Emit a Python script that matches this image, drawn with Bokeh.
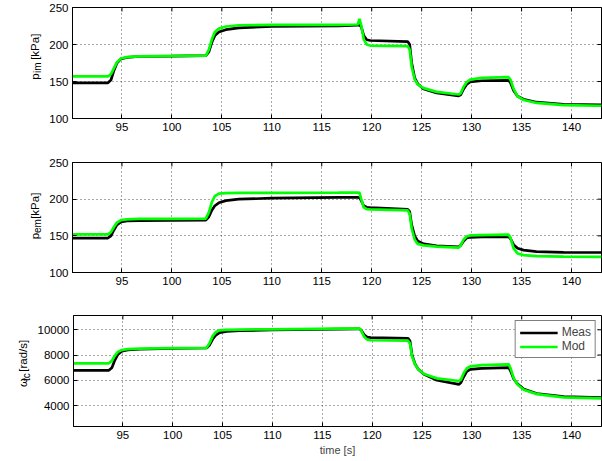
import numpy as np
from bokeh.plotting import figure
from bokeh.layouts import column, row
from bokeh.models import Range1d, FixedTicker, Label, Legend, LegendItem
from bokeh.embed import file_html
from bokeh.resources import INLINE

# ---------------- data ----------------
t = [90.0, 93.6, 93.9, 94.2, 94.5, 94.9, 95.5, 96.7, 100.0, 103.4, 103.7, 104.0,
     104.3, 104.7, 105.4, 106.7, 110.0, 116.7, 118.6, 118.78, 118.95, 119.2, 119.5,
     119.85, 123.6, 123.8, 124.0, 124.3, 124.6, 125.2, 126.5, 128.7, 128.9, 129.2,
     129.5, 129.85, 131.0, 133.7, 133.9, 134.2, 134.6, 135.2, 136.5, 139.2, 143.0]

pim_meas = [148.2, 148.2, 152, 165, 175, 180.6, 182.5, 183.8, 184.3, 185, 190, 203,
            212, 217, 220, 222.5, 224.3, 225.3, 226, 226.2, 224, 212, 206.5,
            205.4, 204, 200, 175, 155, 147, 140, 134.5, 130.5, 132, 140,
            146, 149.5, 151, 151.5, 148, 138, 130, 126, 122, 119, 118.5]
pim_mod = [156.8, 156.8, 160, 168, 176, 181, 183, 184, 184.5, 185, 193, 207,
           217, 221.5, 224.3, 226, 226.6, 226.6, 227, 234.5, 226, 207, 200,
           198.6, 197.7, 193, 170, 153, 146, 141, 136, 132.4, 134, 143,
           149, 152.5, 155, 155.8, 152, 140, 130, 125, 121, 118, 117.2]

pem_meas = [147, 147, 150, 158, 165, 169, 170.3, 170.8, 171.2, 171.5, 176, 185,
            191, 195, 198, 200, 201.3, 202.5, 202.5, 202, 198, 191, 189,
            188.5, 186.2, 183, 165, 150, 143, 139, 136.4, 135, 137, 143,
            147, 148, 148.5, 149, 146, 138, 133, 130.5, 128.5, 127.5, 127.3]
pem_mod = [152, 152, 155, 162, 168, 171.5, 172.5, 173, 173.2, 173.4, 182, 196,
           204, 207.5, 208.3, 208.5, 208.5, 208.8, 209, 208.5, 200, 189, 186.5,
           186, 184.8, 180, 160, 145, 139, 137, 135.2, 134, 137, 145,
           149, 150.5, 151, 151.7, 147, 133, 126, 123.7, 122.3, 121.6, 121.4]

wtc_meas = [6790, 6790, 7000, 7600, 8050, 8300, 8400, 8460, 8520, 8557, 8800, 9250,
            9550, 9773, 9880, 9940, 9984, 10060, 10080, 10060, 9900, 9600, 9420,
            9380, 9323, 9100, 8000, 7300, 6900, 6470, 6000, 5680, 5800, 6300,
            6700, 6866, 6950, 7000, 6700, 6100, 5700, 5300, 4950, 4700, 4620]
wtc_mod = [7342, 7342, 7550, 7950, 8250, 8400, 8470, 8500, 8540, 8570, 8950, 9500,
           9800, 9957, 10000, 10020, 10040, 10100, 10100, 10080, 9850, 9450, 9220,
           9170, 9140, 8900, 7900, 7250, 6900, 6500, 6150, 5942, 6050, 6600,
           6950, 7100, 7200, 7263, 6900, 6150, 5650, 5250, 4900, 4650, 4570]

x_ticks = [95, 100, 105, 110, 115, 120, 125, 130, 135, 140]
p_ticks = [100, 150, 200, 250]
w_ticks = [4000, 6000, 8000, 10000]
x_label = "time [s]"
legend_labels = ["Meas", "Mod"]

FONT = "Liberation Sans"
MEAS_COLOR = "black"
MOD_COLOR = "#00ff00"
X0, X1 = 90.05, 143.0
LEFT, FRAME_W, RIGHT = 72, 529, 1


def style_axis(ax, ticks):
    ax.ticker = FixedTicker(ticks=ticks)
    ax.major_tick_in = 4
    ax.major_tick_out = 0
    ax.minor_tick_in = 0
    ax.minor_tick_out = 0
    ax.axis_line_color = "black"
    ax.major_tick_line_color = "black"
    ax.major_label_text_font = FONT
    ax.major_label_text_color = "black"
    ax.major_label_text_font_size = "11.5px"
    ax.major_label_standoff = 4


def make_fig(label_w, top, frame_h, bottom, yr, yticks, ys, xlabel=None):
    left = LEFT - label_w
    p = figure(width=left + FRAME_W + RIGHT, height=top + frame_h + bottom,
               x_range=Range1d(X0, X1), y_range=Range1d(*yr),
               output_backend="svg", toolbar_location=None,
               min_border_left=left, min_border_right=RIGHT,
               min_border_top=top, min_border_bottom=bottom)
    p.background_fill_color = "white"
    p.border_fill_color = "white"
    p.outline_line_color = "black"
    p.outline_line_width = 1
    style_axis(p.xaxis[0], x_ticks)
    style_axis(p.yaxis[0], yticks)
    if xlabel:
        p.xaxis.axis_label = xlabel
        p.xaxis.axis_label_text_font = FONT
        p.xaxis.axis_label_text_font_size = "11px"
        p.xaxis.axis_label_text_font_style = "normal"
        p.xaxis.axis_label_standoff = 2
    for g in (p.xgrid[0], p.ygrid[0]):
        g.grid_line_color = "#555555"
        g.grid_line_dash = "1 3"
        g.grid_line_width = 1
    p.xgrid.ticker = FixedTicker(ticks=x_ticks)
    p.ygrid.ticker = FixedTicker(ticks=yticks)
    # inner ticks on the top and right edges (clipped half-dashes)
    p.scatter(x_ticks, [yr[1]] * len(x_ticks), marker="dash", size=8, angle=np.pi / 2,
              line_color="black", line_width=1)
    p.scatter([X1] * len(yticks), yticks, marker="dash", size=8,
              line_color="black", line_width=1)
    r1 = p.line(t, ys[0], line_color=MEAS_COLOR, line_width=2.7)
    r2 = p.line(t, ys[1], line_color=MOD_COLOR, line_width=2.7)
    return p, r1, r2


def label_fig(label_w, top, frame_h, bottom, main, sub, unit,
              baseline, sub_dx, main_adv, sub_adv, unit_adv, shift=-3):
    h = top + frame_h + bottom
    f = figure(width=label_w, height=h, x_range=Range1d(0, label_w), y_range=Range1d(0, h),
               output_backend="svg", toolbar_location=None,
               x_axis_location=None, y_axis_location=None,
               min_border=0, min_border_left=0, min_border_right=0,
               min_border_top=0, min_border_bottom=0)
    f.grid.visible = False
    f.outline_line_color = None
    f.background_fill_color = "white"
    f.border_fill_color = "white"
    total = main_adv + sub_adv + 6 + unit_adv
    s = bottom + (frame_h - total) / 2.0 + shift
    common = dict(x_units="data", y_units="data", angle=np.pi / 2,
                  text_font=FONT, text_align="left", text_baseline="alphabetic",
                  text_color="black")
    f.add_layout(Label(x=baseline, y=s, text=main, text_font_size="11.5px", **common))
    f.add_layout(Label(x=baseline + sub_dx, y=s + main_adv, text=sub,
                       text_font_size="10px", **common))
    f.add_layout(Label(x=baseline, y=s + main_adv + sub_adv + 6, text=unit,
                       text_font_size="11.5px", **common))
    return f


P_RANGE = (100, 250)
W_RANGE = (2336, 11133)

LW12, LW3 = 46, 34

p1, _, _ = make_fig(LW12, 7, 111, 22, P_RANGE, p_ticks, (pim_meas, pim_mod))
l1 = label_fig(LW12, 7, 111, 22, "p", "im", "[kPa]", 34, 3, 8.5, 10.6, 26.2)

p2, _, _ = make_fig(LW12, 22, 110, 22, P_RANGE, p_ticks, (pem_meas, pem_mod))
l2 = label_fig(LW12, 22, 110, 22, "p", "em", "[kPa]", 34, 3, 8.5, 13.9, 26.2)

p3, m1, m2 = make_fig(LW3, 21, 111, 34, W_RANGE, w_ticks, (wtc_meas, wtc_mod), xlabel=x_label)
l3 = label_fig(LW3, 21, 111, 34, "\u03c9", "tc", "[rad/s]", 22, 3.5, 9.0, 7.8, 32.0)

legend = Legend(items=[LegendItem(label=legend_labels[0], renderers=[m1]),
                       LegendItem(label=legend_labels[1], renderers=[m2])],
                location="top_right")
legend.margin = 5
legend.padding = 4
legend.spacing = 0
legend.glyph_width = 38
legend.glyph_height = 13
legend.label_height = 13
legend.label_standoff = 4
legend.label_text_font = FONT
legend.label_text_font_size = "12px"
legend.border_line_color = "black"
legend.border_line_width = 1
legend.background_fill_color = "white"
legend.background_fill_alpha = 1.0
p3.add_layout(legend)

layout = column(row(l1, p1, spacing=0), row(l2, p2, spacing=0), row(l3, p3, spacing=0),
                spacing=0)
open("out.html", "w").write(file_html(layout, INLINE))
